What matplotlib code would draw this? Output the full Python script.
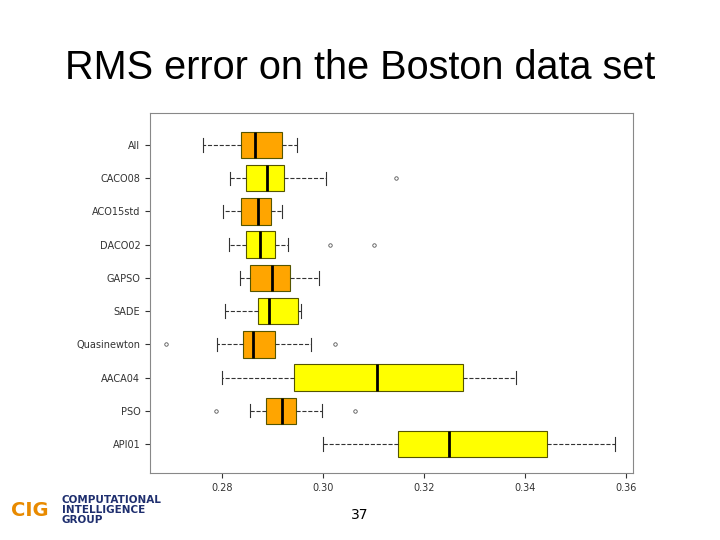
import matplotlib.pyplot as plt

methods = ['All', 'CACO08', 'ACO15std', 'DACO02', 'GAPSO', 'SADE',
           'Quasinewton', 'AACA04', 'PSO', 'API01']
whislo = [0.2762, 0.2816, 0.2802, 0.2814, 0.2836, 0.2806, 0.2790, 0.2800, 0.2855, 0.3000]
q1 = [0.2838, 0.2848, 0.2838, 0.2848, 0.2855, 0.2871, 0.2842, 0.2943, 0.2887, 0.3147]
med = [0.2865, 0.2889, 0.2871, 0.2875, 0.2899, 0.2893, 0.2861, 0.3107, 0.2919, 0.3248]
q3 = [0.2919, 0.2923, 0.2897, 0.2905, 0.2935, 0.2950, 0.2905, 0.3277, 0.2945, 0.3442]
whishi = [0.2947, 0.3006, 0.2919, 0.2931, 0.2992, 0.2956, 0.2976, 0.3382, 0.2998, 0.3578]
fliers = [[], [0.3143], [], [0.3014, 0.3101], [], [], [0.2689, 0.3024], [], [0.2788, 0.3063], []]
colors = ['orange', 'yellow'] * 5

fig = plt.figure(figsize=(7.2, 5.4), dpi=100)
fig.text(0.5, 1 - 68/540, 'RMS error on the Boston data set', ha='center', va='center',
         fontsize=28.5, family='Liberation Sans')

ax = fig.add_axes([150/720, 1 - 473/540, 483/720, 360/540])
stats = []
for i in range(len(methods)):
    stats.append(dict(label=methods[i], whislo=whislo[i], q1=q1[i], med=med[i],
                      q3=q3[i], whishi=whishi[i], fliers=fliers[i]))
pos = list(range(len(methods), 0, -1))
bp = ax.bxp(stats, positions=pos, vert=False, widths=0.8, patch_artist=True,
            whiskerprops=dict(linestyle='--', color='#333333', linewidth=0.8),
            capprops=dict(color='#333333', linewidth=0.8),
            medianprops=dict(color='black', linewidth=2),
            flierprops=dict(marker='o', markersize=2.5, markerfacecolor='none',
                            markeredgecolor='#555555', markeredgewidth=0.6))
for patch, c in zip(bp['boxes'], colors):
    patch.set_facecolor(c)
    patch.set_edgecolor('#555500')
    patch.set_linewidth(0.8)

ax.set_xlim(0.2657, 0.3613)
ax.set_ylim(0.13, 10.96)
ax.set_xticks([0.28, 0.30, 0.32, 0.34, 0.36])
ax.set_xticklabels(['0.28', '0.30', '0.32', '0.34', '0.36'])
ax.tick_params(labelsize=7, colors='#333333')
for s in ax.spines.values():
    s.set_color('#888888')

# slide footer
fig.text(0.5, 1 - 515/540, '37', ha='center', va='center', fontsize=10)
fig.text(62/720, 1 - 510/540, 'COMPUTATIONAL\nINTELLIGENCE\nGROUP', ha='left', va='center',
         fontsize=7.5, color='#1f2f6f', fontweight='bold', linespacing=1.0)
fig.text(30/720, 1 - 510/540, 'CIG', ha='center', va='center', fontsize=14,
         color='#e88a00', fontweight='bold')

fig.savefig('out.png', dpi=100)
